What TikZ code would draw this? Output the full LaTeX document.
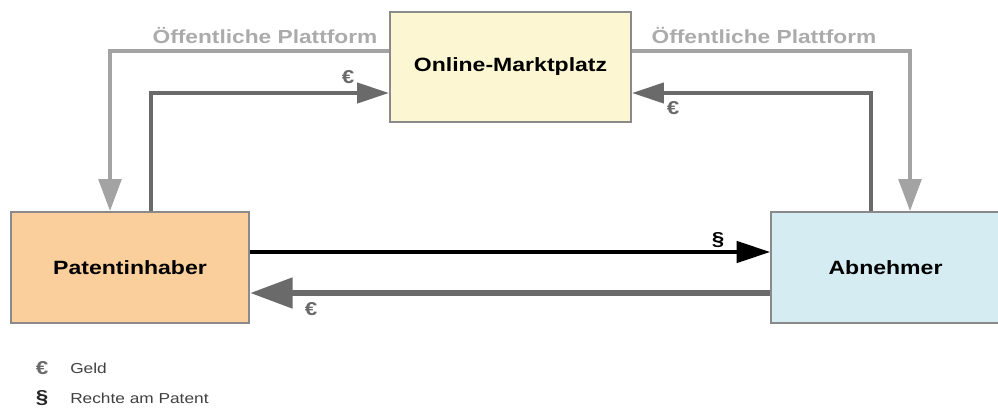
\documentclass[tikz,border=0pt]{standalone}
\usepackage{fontspec}
\setmainfont{Liberation Sans}
\newfontfamily\labfont[FakeStretch=1.2]{Liberation Sans}
\usetikzlibrary{arrows.meta}
\definecolor{boxborder}{HTML}{8A8A8A}
\definecolor{mktfill}{HTML}{FCF7D2}
\definecolor{patfill}{HTML}{FBCF9B}
\definecolor{abnfill}{HTML}{D5ECF2}
\definecolor{lightarrow}{HTML}{A3A3A3}
\definecolor{lighttext}{HTML}{ABABAB}
\definecolor{darkarrow}{HTML}{6A6A6A}
\begin{document}
\begin{tikzpicture}[x=0.75pt,y=-0.75pt,
  box/.style={draw=boxborder,line width=1.4pt,rectangle,inner sep=0pt,
    font=\labfont\bfseries\fontsize{14.4pt}{16pt}\selectfont},
  publine/.style={draw=lightarrow,line width=2.8pt,
    -{Triangle[length=24pt,width=17pt]}},
  moneyline/.style={draw=darkarrow,line width=3pt,
    -{Triangle[length=24pt,width=15pt]}},
  rightsline/.style={draw=black,line width=2.6pt,
    -{Triangle[length=25pt,width=16pt]}},
  moneybig/.style={draw=darkarrow,line width=5.2pt,
    -{Triangle[length=32pt,width=22pt]}},
  pubtext/.style={text=lighttext,font=\labfont\bfseries\fontsize{14.2pt}{16pt}\selectfont,inner sep=0pt},
  sym/.style={font=\labfont\bfseries\fontsize{14pt}{15pt}\selectfont,inner sep=0pt},
  legtext/.style={font=\labfont\fontsize{10.8pt}{12pt}\selectfont,inner sep=0pt,anchor=west,text=black!75}
]
\useasboundingbox (0,0) rectangle (998,407);

\node[box,fill=mktfill,minimum width=180.75pt,minimum height=82.5pt] (mkt) at (510.5,67) {Online-Marktplatz};
\node[box,fill=patfill,minimum width=178.5pt,minimum height=83.25pt] (pat) at (130,267.5) {Patentinhaber};
\node[box,fill=abnfill,minimum width=171.75pt,minimum height=83.25pt] (abn) at (885.5,267.5) {Abnehmer};

% public platform lines
\coordinate (pl) at (110,51);
\coordinate (pr) at (910,51);
\draw[publine] (mkt.west |- pl) -- (pl) -- (pl |- pat.north);
\draw[publine] (mkt.east |- pr) -- (pr) -- (pr |- abn.north);
\node[pubtext] (publ) at (265,36) {Öffentliche Plattform};
\node[pubtext] (pubr) at (764,36) {Öffentliche Plattform};

% money lines to marketplace
\coordinate (ml) at (151,93);
\coordinate (mr) at (871,93);
\draw[moneyline] (ml |- pat.north) -- (ml) -- (mkt.west |- ml);
\draw[moneyline] (mr |- abn.north) -- (mr) -- (mkt.east |- mr);
\node[sym,text=darkarrow] (eurl) at (348,77) {€};
\node[sym,text=darkarrow] (eurr) at (673,108) {€};

% rights and money between parties
\coordinate (rr) at (0,252);
\coordinate (mb) at (0,293);
\draw[rightsline] (pat.east |- rr) -- (abn.west |- rr);
\draw[moneybig] (abn.west |- mb) -- (pat.east |- mb);
\node[sym,text=black] (par) at (718,240) {§};
\node[sym,text=darkarrow] (eurb) at (311,309) {€};

% legend
\node[sym,text=darkarrow] (leg1) at (42,368) {€};
\node[sym,text=black!85] (leg2) at (42,398) {§};
\node[legtext] (leg1t) at (70,368) {Geld};
\node[legtext] (leg2t) at (70,398) {Rechte am Patent};
\end{tikzpicture}
\end{document}
